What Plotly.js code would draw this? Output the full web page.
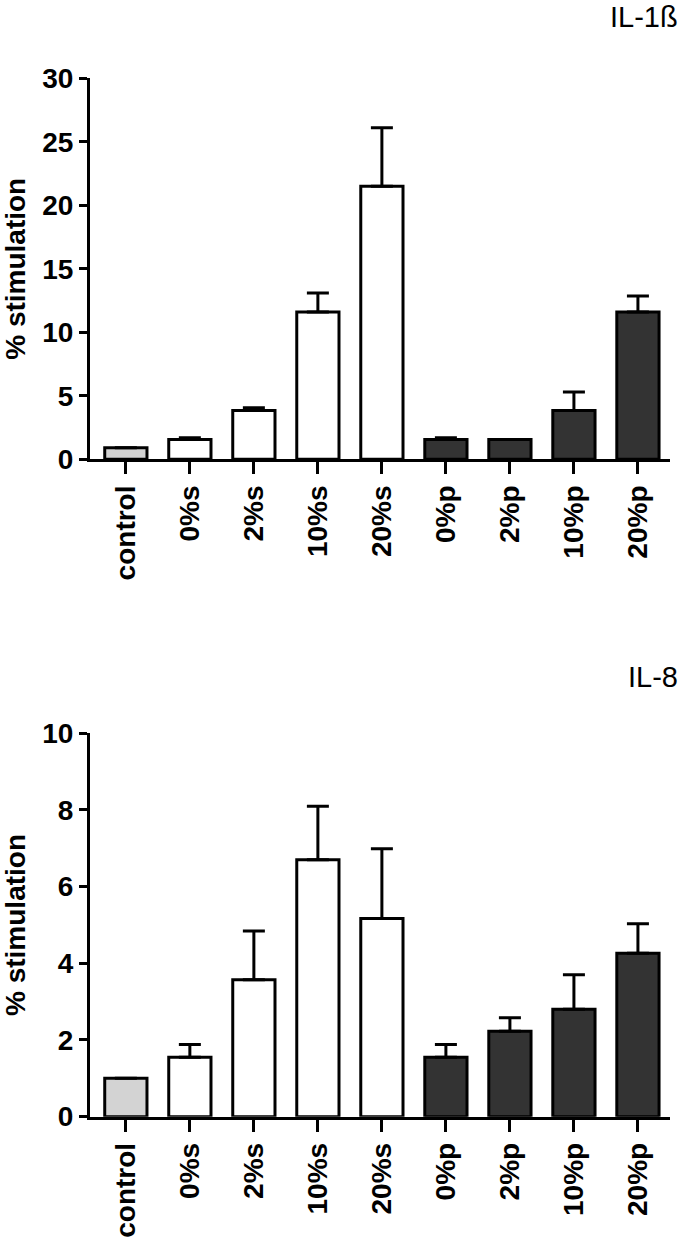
<!DOCTYPE html>
<html>
<head>
<meta charset="utf-8">
<script src="https://cdn.plot.ly/plotly-3.0.1.min.js"></script>
<style>html,body{margin:0;padding:0;background:#fff;}</style>
</head>
<body>
<div id="chart" style="width:685px;height:1241px;"></div>
<script>
const categories = ['control','0%s','2%s','10%s','20%s','0%p','2%p','10%p','20%p'];
const barColors = ['#d3d3d3','#ffffff','#ffffff','#ffffff','#ffffff','#333333','#333333','#333333','#333333'];
const il1bValues = [0.9, 1.55, 3.85, 11.6, 21.5, 1.55, 1.55, 3.85, 11.6];
const il1bErrors = [0, 0.15, 0.2, 1.5, 4.6, 0.15, 0, 1.45, 1.25];
const il8Values = [1.0, 1.55, 3.57, 6.7, 5.17, 1.55, 2.23, 2.8, 4.26];
const il8Errors = [0, 0.33, 1.27, 1.4, 1.82, 0.33, 0.35, 0.9, 0.77];
const zeros = [0,0,0,0,0,0,0,0,0];

const FONT = 'Liberation Sans, Arial, Helvetica, sans-serif';

function barTrace(vals, errs, xa, ya) {
  return {
    type: 'bar', x: categories, y: vals, xaxis: xa, yaxis: ya,
    width: 0.66,
    marker: {color: barColors, line: {color: '#000', width: 3}},
    error_y: {type: 'data', symmetric: false, array: errs, arrayminus: zeros,
              color: '#000', thickness: 3, width: 11},
    showlegend: false, hoverinfo: 'skip'
  };
}

const xaxisBase = {
  type: 'category', range: [-0.56, 8.5], domain: [0.1314, 0.978],
  showline: true, linecolor: '#000', linewidth: 3,
  ticks: 'outside', ticklen: 12, tickwidth: 3, tickcolor: '#000',
  tickangle: -90, tickfont: {family: FONT, size: 28, color: '#000', weight: 'bold'},
  showgrid: false, zeroline: false, automargin: false, fixedrange: true
};
const yaxisBase = {
  showline: true, linecolor: '#000', linewidth: 3,
  ticks: 'outside', ticklen: 8, tickwidth: 3, tickcolor: '#000',
  tickfont: {family: FONT, size: 28, color: '#000', weight: 'bold'},
  showgrid: false, zeroline: false, automargin: false, fixedrange: true,
  title: {text: '% stimulation', font: {family: FONT, size: 28, color: '#000', weight: 'bold'}, standoff: 10}
};

const layout = {
  width: 685, height: 1241,
  margin: {l: 0, r: 0, t: 0, b: 0},
  paper_bgcolor: '#fff', plot_bgcolor: '#fff',
  bargap: 0.34,
  xaxis: Object.assign({}, xaxisBase, {anchor: 'y'}),
  yaxis: Object.assign({}, yaxisBase, {domain: [0.6299, 0.9369], range: [0, 30], dtick: 5, anchor: 'x'}),
  xaxis2: Object.assign({}, xaxisBase, {anchor: 'y2'}),
  yaxis2: Object.assign({}, yaxisBase, {domain: [0.1002, 0.4091], range: [0, 10], dtick: 2, anchor: 'x2'}),
  annotations: [
    {text: 'IL-1ß', xref: 'paper', yref: 'paper', x: 0.992, y: 1 - 17/1241, xanchor: 'right', yanchor: 'middle',
     showarrow: false, font: {family: FONT, size: 29, color: '#000'}},
    {text: 'IL-8', xref: 'paper', yref: 'paper', x: 0.992, y: 1 - 677/1241, xanchor: 'right', yanchor: 'middle',
     showarrow: false, font: {family: FONT, size: 29, color: '#000'}}
  ]
};

Plotly.newPlot('chart', [
  barTrace(il1bValues, il1bErrors, 'x', 'y'),
  barTrace(il8Values, il8Errors, 'x2', 'y2')
], layout, {staticPlot: true, displayModeBar: false});
</script>
</body>
</html>
